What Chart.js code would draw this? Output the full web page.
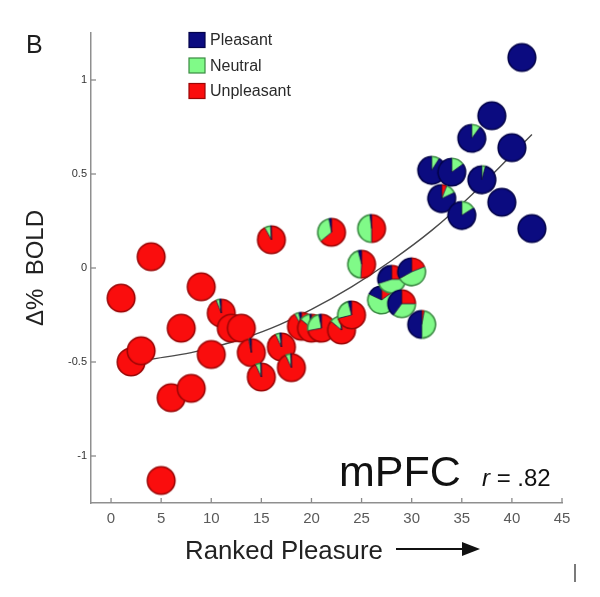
<!DOCTYPE html>
<html>
<head>
<meta charset="utf-8">
<title>mPFC ranked pleasure</title>
<script src="https://cdn.jsdelivr.net/npm/chart.js@4.4.1/dist/chart.umd.min.js"></script>
<style>
    html, body { margin: 0; padding: 0; background: #fff; }
    #wrap { width: 600px; height: 597px; }
</style>
</head>
<body>
<div id="wrap"><canvas id="pleasure-chart" width="600" height="597"></canvas></div>
<script>
// ranked pleasure of each stimulus
const ranks = [1, 2, 3, 4, 5, 6, 7, 8, 9, 10, 11, 12, 13, 14, 15, 16, 17, 18, 19, 20, 21,
    22, 23, 24, 25, 26, 27, 28, 29, 30, 31, 32, 33, 34, 35, 36, 37, 38, 39, 40, 41, 42];
// Δ% BOLD in mPFC
const boldChange = [-0.16, -0.50, -0.44, 0.06, -1.13, -0.69, -0.32, -0.64, -0.10, -0.46, -0.24,
    -0.32, -0.32, -0.45, -0.58, 0.15, -0.42, -0.53, -0.31, -0.32, -0.32, 0.19, -0.33, -0.25,
    0.02, 0.21, -0.17, -0.06, -0.19, -0.02, -0.30, 0.52, 0.37, 0.51, 0.28, 0.69, 0.47, 0.81,
    0.35, 0.64, 1.12, 0.21];
// share of ratings per stimulus
const pleasantShare = [0, 0, 0, 0, 0, 0, 0, 0, 0, 0, 0.02, 0, 0, 0.02, 0.01, 0.01, 0.02, 0.01,
    0.03, 0.02, 0.03, 0.03, 0.02, 0.04, 0.04, 0.02, 0.18, 0.30, 0.40, 0.33, 0.50, 0.91, 0.82,
    0.85, 0.84, 0.90, 0.96, 1, 1, 1, 1, 1];
const neutralShare = [0, 0, 0, 0, 0, 0, 0, 0, 0, 0, 0.04, 0, 0, 0.01, 0.06, 0.07, 0.05, 0.06,
    0.05, 0.12, 0.25, 0.33, 0.12, 0.25, 0.45, 0.48, 0.67, 0.45, 0.35, 0.48, 0.47, 0.09, 0.12,
    0.15, 0.16, 0.10, 0.04, 0, 0, 0, 0, 0];
const unpleasantShare = [1, 1, 1, 1, 1, 1, 1, 1, 1, 1, 0.94, 1, 1, 0.97, 0.93, 0.92, 0.93, 0.93,
    0.92, 0.86, 0.72, 0.64, 0.86, 0.71, 0.51, 0.50, 0.15, 0.25, 0.25, 0.19, 0.03, 0, 0.06,
    0, 0, 0, 0, 0, 0, 0, 0, 0];
// fitted curve
const fitX = [4, 8, 12, 16, 20, 24, 28, 32, 36, 42];
const fitY = [-0.485, -0.45, -0.395, -0.32, -0.22, -0.10, 0.04, 0.20, 0.39, 0.71];
const xTicks = [0, 5, 10, 15, 20, 25, 30, 35, 40, 45];
const yTicks = [-1, -0.5, 0, 0.5, 1];
const legendLabels = ['Pleasant', 'Neutral', 'Unpleasant'];

const FONT = "'Liberation Sans', Arial, Helvetica, sans-serif";
const colors = {
    pleasant: { fill: '#0b0b80', edge: '#03034a' },
    neutral: { fill: '#80fa88', edge: '#3a8a42' },
    unpleasant: { fill: '#fa0d0d', edge: '#9a0606' }
};
const legendColors = [colors.pleasant, colors.neutral, colors.unpleasant];

// small pie used as the marker of one point
function makePie(p, n, u) {
    const size = 32, r = 13.8;
    const c = document.createElement('canvas');
    c.width = size;
    c.height = size;
    const ctx = c.getContext('2d');
    const cx = size / 2, cy = size / 2;
    // clockwise from the top: unpleasant, neutral, pleasant
    // (pleasant then runs counter-clockwise from 12 o'clock, as in the figure)
    const parts = [[u, colors.unpleasant], [n, colors.neutral], [p, colors.pleasant]]
        .filter(part => part[0] > 0);
    let a = -Math.PI / 2;
    const cuts = [];
    parts.forEach(([f, col]) => {
        const b = a + f * 2 * Math.PI;
        ctx.beginPath();
        ctx.moveTo(cx, cy);
        ctx.arc(cx, cy, r, a, b);
        ctx.closePath();
        ctx.fillStyle = col.fill;
        ctx.fill();
        cuts.push(a);
        a = b;
    });
    if (parts.length > 1) {
        ctx.strokeStyle = 'rgba(10,10,50,0.75)';
        ctx.lineWidth = 1;
        cuts.forEach(ang => {
            ctx.beginPath();
            ctx.moveTo(cx, cy);
            ctx.lineTo(cx + r * Math.cos(ang), cy + r * Math.sin(ang));
            ctx.stroke();
        });
    }
    a = -Math.PI / 2;
    parts.forEach(([f, col]) => {
        const b = a + f * 2 * Math.PI;
        ctx.beginPath();
        ctx.arc(cx, cy, r, a, b);
        ctx.strokeStyle = col.edge;
        ctx.lineWidth = 1.6;
        ctx.stroke();
        a = b;
    });
    return c;
}

const pieMarkers = ranks.map((_, i) => makePie(pleasantShare[i], neutralShare[i], unpleasantShare[i]));

// inward tick marks on both axes
const innerTicks = {
    id: 'innerTicks',
    afterDatasetsDraw(chart) {
        const { ctx, scales: { x, y } } = chart;
        ctx.save();
        ctx.strokeStyle = '#8a8a8a';
        ctx.lineWidth = 1.3;
        xTicks.forEach(v => {
            const px = x.getPixelForValue(v);
            ctx.beginPath();
            ctx.moveTo(px, y.bottom);
            ctx.lineTo(px, y.bottom - 5);
            ctx.stroke();
        });
        yTicks.forEach(v => {
            const py = y.getPixelForValue(v);
            ctx.beginPath();
            ctx.moveTo(x.left, py);
            ctx.lineTo(x.left + 5, py);
            ctx.stroke();
        });
        ctx.restore();
    }
};

// panel letter, legend, region label, x title with arrow
const annotations = {
    id: 'annotations',
    afterDraw(chart) {
        const ctx = chart.ctx;
        ctx.save();
        ctx.fillStyle = '#1e1e1e';
        ctx.textBaseline = 'alphabetic';
        ctx.textAlign = 'left';
        ctx.font = '25px ' + FONT;
        ctx.fillText('B', 26, 53);

        // legend
        legendLabels.forEach((label, i) => {
            const cy = 40 + i * 25.5;
            ctx.fillStyle = legendColors[i].fill;
            ctx.fillRect(189, cy - 7.5, 16, 15);
            ctx.strokeStyle = legendColors[i].edge;
            ctx.lineWidth = 1.2;
            ctx.strokeRect(189, cy - 7.5, 16, 15);
            ctx.fillStyle = '#2a2a2a';
            ctx.font = '16px ' + FONT;
            ctx.textBaseline = 'middle';
            ctx.fillText(label, 210, cy + 1);
        });

        ctx.textBaseline = 'alphabetic';
        ctx.fillStyle = '#111';
        ctx.font = '43px ' + FONT;
        ctx.fillText('mPFC', 339, 486);
        ctx.font = 'italic 24px ' + FONT;
        ctx.fillText('r', 482, 486);
        const rw = ctx.measureText('r').width;
        ctx.font = '24px ' + FONT;
        ctx.fillText(' = .82', 482 + rw, 486);

        // x axis title and arrow
        ctx.fillStyle = '#222';
        ctx.font = '25.8px ' + FONT;
        ctx.fillText('Ranked Pleasure', 185, 559);
        ctx.strokeStyle = '#111';
        ctx.lineWidth = 2;
        ctx.beginPath();
        ctx.moveTo(396, 549);
        ctx.lineTo(466, 549);
        ctx.stroke();
        ctx.fillStyle = '#111';
        ctx.beginPath();
        ctx.moveTo(480, 549);
        ctx.lineTo(462, 542);
        ctx.lineTo(462, 556);
        ctx.closePath();
        ctx.fill();

        // stray mark at the lower right of the figure
        ctx.strokeStyle = '#333';
        ctx.lineWidth = 1.3;
        ctx.beginPath();
        ctx.moveTo(575, 564);
        ctx.lineTo(575, 582);
        ctx.stroke();
        ctx.restore();
    }
};

const ctx = document.getElementById('pleasure-chart');
const chart = new Chart(ctx, {
    type: 'scatter',
    data: {
        datasets: [{
            label: 'stimuli',
            data: ranks.map((r, i) => ({ x: r, y: boldChange[i] })),
            pointStyle: pieMarkers,
            pointRadius: 14,
            pointHoverRadius: 14,
            order: 1
        }, {
            type: 'line',
            label: 'fit',
            data: fitX.map((v, i) => ({ x: v, y: fitY[i] })),
            borderColor: '#4a4a4a',
            borderWidth: 1.4,
            pointRadius: 0,
            fill: false,
            cubicInterpolationMode: 'monotone',
            order: 2
        }]
    },
    options: {
        responsive: false,
        animation: false,
        layout: { padding: { left: 0, right: 38, top: 33, bottom: 0 } },
        plugins: {
            legend: { display: false },
            tooltip: { enabled: false }
        },
        scales: {
            x: {
                type: 'linear',
                min: -2,
                max: 45,
                afterFit: s => { s.height = 94; },
                afterBuildTicks: s => { s.ticks = xTicks.map(v => ({ value: v })); },
                grid: { display: false, drawTicks: false },
                border: { color: '#8f8f8f', width: 1.5 },
                ticks: {
                    padding: 7,
                    color: '#5a5a5a',
                    font: { family: FONT, size: 15 },
                    callback: v => String(v)
                }
            },
            y: {
                type: 'linear',
                min: -1.25,
                max: 1.25,
                afterFit: s => { s.width = 91; },
                afterBuildTicks: s => { s.ticks = yTicks.map(v => ({ value: v })); },
                grid: { display: false, drawTicks: false },
                border: { color: '#8f8f8f', width: 1.5 },
                ticks: {
                    padding: 4,
                    color: '#333',
                    font: { family: FONT, size: 11 },
                    callback: v => String(v)
                },
                title: {
                    display: true,
                    text: 'Δ%  BOLD',
                    color: '#222',
                    font: { family: FONT, size: 24 },
                    padding: { top: 22, bottom: 0 }
                }
            }
        }
    },
    plugins: [innerTicks, annotations]
});
</script>
</body>
</html>
